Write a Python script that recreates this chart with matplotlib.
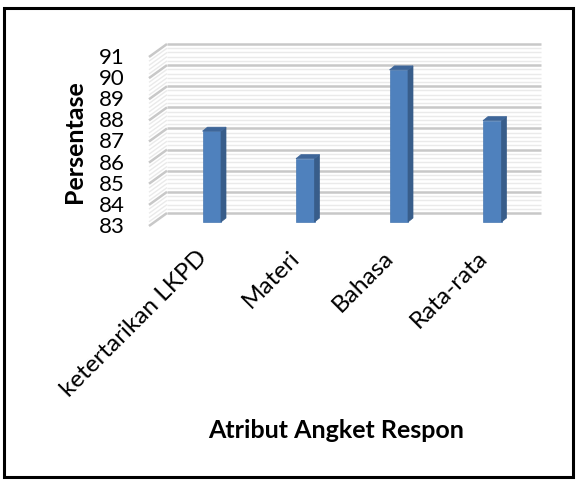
import matplotlib
matplotlib.use("Agg")
import matplotlib.pyplot as plt
from matplotlib.patches import Polygon, Rectangle
import numpy as np

plt.rcParams['font.family'] = ['Lato', 'DejaVu Sans']

# Data
categories = ["ketertarikan LKPD", "Materi", "Bahasa", "Rata-rata"]
values = [87.3, 86.0, 90.2, 87.8]
y_ticks = [83, 84, 85, 86, 87, 88, 89, 90, 91]

W, H = 582, 481
fig = plt.figure(figsize=(W / 100, H / 100), dpi=100)

# axes placed on the bar plane (pixel geometry of the reference)
ax_l, ax_r = 165, 539
y0_px, y1_px = 223, 54  # 83 and 91 from top
ax = fig.add_axes([ax_l / W, 1 - y0_px / H, (ax_r - ax_l) / W, (y0_px - y1_px) / H])
ax.set_xlim(-0.5, 3.5)
ax.set_ylim(83, 91)
ax.axis("off")

sx = (ax_r - ax_l) / 4.0        # px per x unit
sy = (y0_px - y1_px) / 8.0      # px per y unit

# offsets (px -> data units)
bdx, bdy = 2 / sx, 9 / sy       # back wall
fdx, fdy = -16 / sx, -4 / sy    # front edge of side wall
xl, xr = -0.5, 3.5

# minor / major gridlines on back and side wall
minor = np.arange(83, 91.001, 0.2)
for v in minor:
    major = abs(v - round(v)) < 1e-6
    c = "#c8c8c8" if major else "#eaeaea"
    lw = 1.8 if major else 1.0
    ax.plot([xl + bdx, xr + bdx], [v + bdy, v + bdy], color=c, lw=lw,
            clip_on=False, zorder=1, solid_capstyle="butt")
    ax.plot([xl + fdx, xl + bdx], [v + fdy, v + bdy], color=c, lw=lw,
            clip_on=False, zorder=1, solid_capstyle="butt")

# bars with 3D faces
bw = 18.5 / sx
ddx, ddy = 5 / sx, 4 / sy
for i, v in enumerate(values):
    x0 = i - bw / 2
    ax.add_patch(Rectangle((x0, 83), bw, v - 83, facecolor="#4F81BD",
                           edgecolor="#4A7AB3", lw=0.5, zorder=3, clip_on=False))
    side = [(x0 + bw, 83), (x0 + bw, v), (x0 + bw + ddx, v + ddy), (x0 + bw + ddx, 83 + ddy)]
    ax.add_patch(Polygon(side, closed=True, facecolor="#385D8A", edgecolor="#385D8A",
                         lw=0.5, zorder=3, clip_on=False))
    top = [(x0, v), (x0 + bw, v), (x0 + bw + ddx, v + ddy), (x0 + ddx, v + ddy)]
    ax.add_patch(Polygon(top, closed=True, facecolor="#3E6699", edgecolor="#3E6699",
                         lw=0.5, zorder=3, clip_on=False))

# y tick labels at the front edge of the side wall
for t in y_ticks:
    ax.text(xl + fdx - 24 / sx, t + fdy, str(t), ha="right", va="center",
            fontsize=16, color="black", clip_on=False)

# category labels
for i, c in enumerate(categories):
    ax.text(i - 16 / sx, 83 - 24 / sy, c, rotation=45, rotation_mode="anchor",
            ha="right", va="top", fontsize=17.5, clip_on=False)

fig.text(74 / W, 1 - 142 / H, "Persentase", rotation=90, ha="center", va="center",
         fontsize=18, fontweight="bold")
fig.text(336 / W, 1 - 431 / H, "Atribut Angket Respon", ha="center", va="center",
         fontsize=18, fontweight="bold")

# outer border
fig.patches.append(Rectangle((4 / W, 3 / H), 569 / W, 469 / H, transform=fig.transFigure,
                             fill=False, edgecolor="black", lw=2.2))

fig.savefig("out.png", dpi=100)
